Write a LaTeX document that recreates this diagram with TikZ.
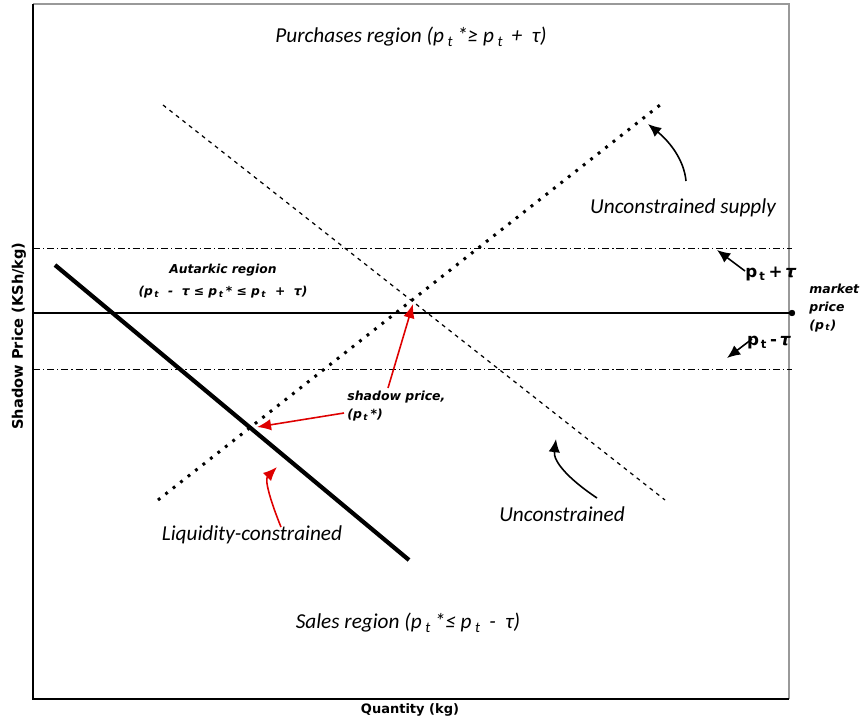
\documentclass[tikz,border=0pt]{standalone}
\usepackage{fontspec}
\setmainfont{Carlito}
\newfontfamily\verd{DejaVu Sans}
\usetikzlibrary{arrows.meta}
\definecolor{arrowred}{RGB}{222,0,0}

\tikzset{
  bandline/.style={line width=0.5pt, dash pattern=on 4pt off 1.7pt on 0.7pt off 1.7pt},
  supplyline/.style={line width=1.7pt, dash pattern=on 1.6pt off 3.8pt},
  demandline/.style={line width=0.7pt, dash pattern=on 2.2pt off 2.5pt},
  region/.style={font=\itshape\fontsize{12.1}{15}\selectfont, inner sep=0pt},
  boldlabel/.style={font=\verd\bfseries\itshape\fontsize{7}{12.5}\selectfont, inner sep=0pt},
  axislabel/.style={font=\verd\bfseries\fontsize{7.4}{9}\selectfont, inner sep=0pt},
  blackarrow/.style={-{Latex[length=7.5pt,width=6.5pt]}, line width=0.9pt},
  redarrow/.style={-{Latex[length=8pt,width=6.5pt]}, line width=0.9pt, arrowred},
}

\begin{document}
\begin{tikzpicture}[x=0.02cm, y=-0.02cm]
            \useasboundingbox (0,0) rectangle (865,724);
            % frame
            \draw[gray!80, line width=0.7pt] (33,4) -- (789,4) -- (789,699);
            \draw[line width=0.7pt] (789,699) -- (33,699) -- (33,4);

            % price band and market price
            \coordinate (up-a) at (33,248);
            \coordinate (up-b) at (792,248);
            \coordinate (lo-a) at (33,369);
            \coordinate (lo-b) at (792,369);
            \coordinate (mkt-a) at (33,313);
            \coordinate (mkt-b) at (792,313);
            \draw[bandline] (up-a) -- (up-b);
            \draw[bandline] (lo-a) -- (lo-b);
            \draw[line width=0.9pt] (mkt-a) -- (mkt-b);
            \filldraw[black] (mkt-b) circle (1.6pt);

            % supply, demand and liquidity-constrained curves
            \coordinate (sup-a) at (158,500);
            \coordinate (sup-b) at (660,105);
            \coordinate (dem-a) at (163,105);
            \coordinate (dem-b) at (665,500);
            \coordinate (liq-a) at (55,265);
            \coordinate (liq-b) at (409,560);
            \draw[supplyline] (sup-a) -- (sup-b);
            \draw[demandline] (dem-a) -- (dem-b);
            \draw[line width=2.4pt] (liq-a) -- (liq-b);

            % region labels
            \node[region] (purchases) at (411,37) {Purchases region (p\,\textsubscript{t}\,*≥ p\,\textsubscript{t}\, + ~τ)};
            \node[region] (sales) at (408,623) {Sales region (p\,\textsubscript{t}\,*≤ p\,\textsubscript{t}\, - ~τ)};
            \node[boldlabel, align=center] (autarkic) at (223,281) {Autarkic region\\(p\textsubscript{\,t} ~- ~τ ≤ p\textsubscript{\,t}\,* ≤ p\textsubscript{\,t} ~+ ~τ)};

            % curve labels
            \node[region] (supplylab) at (683,208) {Unconstrained supply};
            \node[region] (demandlab) at (562,514) {Unconstrained};
            \node[region] (liqlab) at (252,535) {Liquidity-constrained};
            \node[boldlabel, align=left, anchor=west, font=\verd\bfseries\itshape\fontsize{7.1}{10}\selectfont] (shadow) at (347,406) {shadow price,\\(p\textsubscript{\,t}\,*)};
            \node[boldlabel, align=left, anchor=west, font=\verd\bfseries\itshape\fontsize{7.1}{10}\selectfont] (market) at (809,308) {market\\price\\(p\textsubscript{\,t})};
            \node[boldlabel, font=\verd\bfseries\fontsize{9.5}{11}\selectfont] (pplus) at (771,274) {p\textsubscript{\,t}\,+\,\textit{τ}};
            \node[boldlabel, font=\verd\bfseries\fontsize{9.5}{11}\selectfont] (pminus) at (769,343) {p\textsubscript{\,t}\,-\,\textit{τ}};

            % axis labels
            \node[axislabel] (xlab) at (410,710) {Quantity (kg)};
            \node[axislabel, rotate=90, font=\verd\bfseries\fontsize{8.3}{9}\selectfont] (ylab) at (19,336) {Shadow Price (KSh/kg)};

            % pointers
            \coordinate (eq) at (413,304);
            \coordinate (liqeq) at (257,427);
            \coordinate (shadow-up) at (388,388);
            \coordinate (shadow-left) at (344,413);
            \coordinate (liq-tip) at (277,467);
            \coordinate (liq-from) at (281,527);
            \coordinate (sup-tip) at (648,124);
            \coordinate (sup-from) at (686,181);
            \coordinate (dem-tip) at (556,439);
            \coordinate (dem-from) at (597,498);
            \coordinate (plus-from) at (745,271);
            \coordinate (plus-tip) at (717,250);
            \coordinate (minus-from) at (752,339);
            \coordinate (minus-tip) at (727,358);

            \draw[redarrow] (shadow-up) -- (eq);
            \draw[redarrow] (shadow-left) -- (liqeq);
            \draw[redarrow] (liq-from) .. controls (272,505) and (264,480) .. (liq-tip);
            \draw[blackarrow] (sup-from) .. controls (684,160) and (670,142) .. (sup-tip);
            \draw[blackarrow] (dem-from) .. controls (570,480) and (553,462) .. (dem-tip);
            \draw[blackarrow] (plus-from) -- (plus-tip);
            \draw[blackarrow] (minus-from) -- (minus-tip);
\end{tikzpicture}
\end{document}
